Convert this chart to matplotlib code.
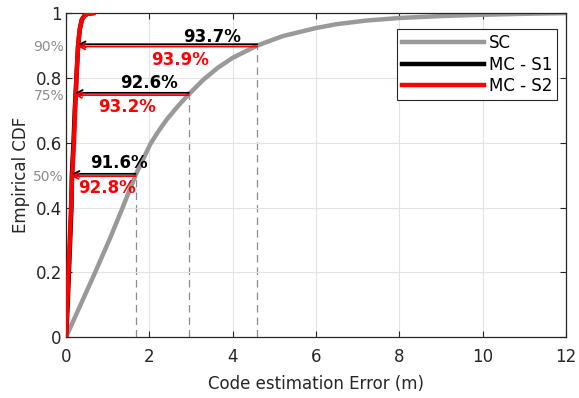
# empirical CDF of code estimation error, SC vs MC
import numpy as np
import matplotlib.pyplot as plt

# CDF points
sc_x = [0, 0.35, 0.70, 1.04, 1.36, 1.67, 2.02, 2.2, 2.42, 2.7, 2.95, 3.3,
        3.65, 4.0, 4.59, 5.2, 6.0, 6.5, 7.2, 8.0, 9.0, 10.0, 11.0, 12.0]
sc_y = [0, 0.1, 0.2, 0.3, 0.4, 0.5, 0.595, 0.632, 0.672, 0.715, 0.75,
        0.795, 0.832, 0.862, 0.9, 0.929, 0.954, 0.966, 0.977, 0.985, 0.991,
        0.995, 0.998, 1.0]
s1_x = [0, 0.04, 0.07, 0.10, 0.13, 0.14, 0.18, 0.21, 0.25, 0.29, 0.33, 0.38, 0.45, 0.52, 0.65]
s1_y = [0, 0.1, 0.2, 0.3, 0.4, 0.5, 0.6, 0.7, 0.8, 0.9, 0.95, 0.98, 0.993, 0.998, 1.0]
s2_x = [0, 0.03, 0.06, 0.09, 0.12, 0.15, 0.19, 0.22, 0.25, 0.29, 0.33, 0.38, 0.45, 0.52, 0.65]
s2_y = [0, 0.1, 0.2, 0.3, 0.4, 0.5, 0.6, 0.7, 0.8, 0.9, 0.95, 0.98, 0.993, 0.998, 1.0]

# percentile levels, SC error at each level and reductions
levels = [0.5, 0.75, 0.9]
level_labels = ['50%', '75%', '90%']
sc_at_level = [1.67, 2.95, 4.59]
s1_gain = [91.6, 92.6, 93.7]
s2_gain = [92.8, 93.2, 93.9]
# label positions (x, y) for black / red texts
s1_text_pos = [(1.26, 0.537), (2.0, 0.784), (3.5, 0.927)]
s2_text_pos = [(0.98, 0.46), (1.46, 0.711), (2.74, 0.855)]

GRAY = '#999999'
DARK = '#262626'

plt.rcParams['font.family'] = ['DejaVu Sans']
fig = plt.figure(figsize=(5.79, 3.98), dpi=100)
ax = fig.add_axes([0.114, 0.153, 0.8635, 0.814])

ax.grid(True, color='#e3e3e3', linewidth=0.8, zorder=0)

# dashed drop lines at percentile points
for xv, lv in zip(sc_at_level, levels):
    ax.plot([xv, xv], [0, lv], color='#8c8c8c', linestyle=(0, (6, 4)),
            linewidth=0.9, zorder=1)

ax.plot(sc_x, sc_y, color=GRAY, linewidth=3.2, label='SC', zorder=2,
        solid_joinstyle='round')
ax.plot(s1_x, s1_y, color='black', linewidth=3.2, label='MC - S1', zorder=3)
ax.plot(s2_x, s2_y, color='red', linewidth=3.2, label='MC - S2', zorder=4)

# arrows from SC point to MC points
for i, lv in enumerate(levels):
    xs = sc_at_level[i]
    x1 = xs * (1 - s1_gain[i] / 100)
    x2 = xs * (1 - s2_gain[i] / 100)
    ax.annotate('', xy=(x1, lv + 0.004), xytext=(xs, lv + 0.004),
                arrowprops=dict(arrowstyle='->', color='black', lw=1.3,
                                shrinkA=0, shrinkB=0), zorder=5)
    ax.annotate('', xy=(x2, lv - 0.003), xytext=(xs, lv - 0.003),
                arrowprops=dict(arrowstyle='->', color='red', lw=1.3,
                                shrinkA=0, shrinkB=0), zorder=5)
    ax.text(*s1_text_pos[i], f'{s1_gain[i]}%', color='black', fontsize=12,
            fontweight='bold', ha='center', va='center', zorder=6)
    ax.text(*s2_text_pos[i], f'{s2_gain[i]}%', color='red', fontsize=12,
            fontweight='bold', ha='center', va='center', zorder=6)

# gray percentile labels on the y axis
for lv, lab in zip(levels, level_labels):
    ax.text(-0.004, lv, lab, color='#8c8c8c', fontsize=10, ha='right',
            va='center_baseline', transform=ax.get_yaxis_transform())

ax.set_xlim(0, 12)
ax.set_ylim(0, 1)
ax.set_xticks([0, 2, 4, 6, 8, 10, 12])
ax.set_yticks([0, 0.2, 0.4, 0.6, 0.8, 1])
ax.set_yticklabels(['0', '0.2', '0.4', '0.6', '0.8', '1'])
ax.tick_params(direction='in', top=True, right=True, length=4,
               labelsize=12, colors=DARK)
ax.tick_params(axis='x', pad=8)
ax.tick_params(axis='y', pad=3)
for sp in ax.spines.values():
    sp.set_color(DARK)
    sp.set_linewidth(0.9)

ax.set_xlabel('Code estimation Error (m)', fontsize=12, color=DARK, labelpad=6)
ax.set_ylabel('Empirical CDF', fontsize=12, color=DARK, labelpad=4)

leg = ax.legend(loc='upper right', bbox_to_anchor=(0.982, 0.95), fontsize=12,
                handlelength=4.9, fancybox=False, framealpha=1,
                edgecolor=DARK, borderpad=0.3, labelspacing=0.2,
                handletextpad=0.3, borderaxespad=0)
leg.get_frame().set_linewidth(0.8)

fig.savefig('out.png', dpi=100)
